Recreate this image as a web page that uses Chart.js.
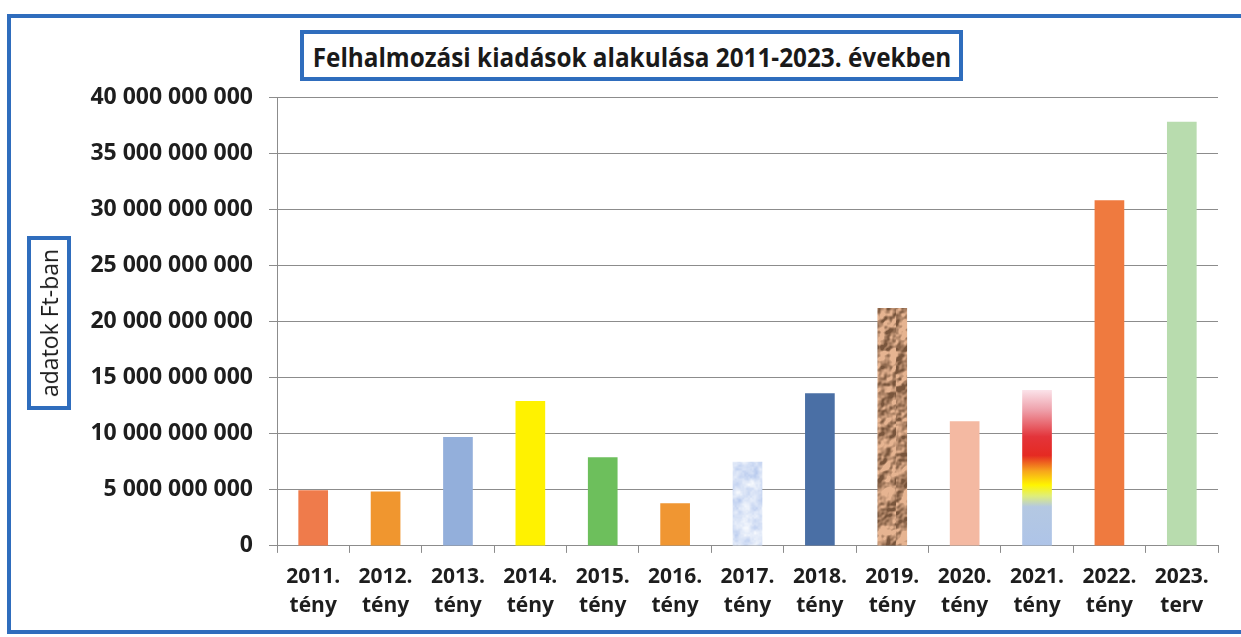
<!DOCTYPE html>
<html>
<head>
<meta charset="utf-8">
<script src="https://cdn.jsdelivr.net/npm/chart.js@4"></script>
<style>
  body { margin: 0; background: #fff; }
  #wrap { position: relative; width: 1241px; height: 637px; overflow: hidden; }
  #c { position: absolute; left: 0; top: 0; }
  .frame { position: absolute; left: 7px; top: 14px; width: 1260px; height: 612px; border: 4px solid #2f6dbd; }
  .title {
    position: absolute; left: 300px; top: 30px; width: 655px; height: 43px;
    border: 4px solid #2f6dbd; background: #fff;
  }
  .title span {
    position: absolute; left: 50%; top: 50%; transform: translate(-50%, -50%) scaleX(0.9);
    font: bold 27px "Open Sans", sans-serif; color: #1a1a1a; white-space: nowrap;
  }
  .ytitle {
    position: absolute; left: 27px; top: 236px; width: 36px; height: 166px;
    border: 4px solid #2f6dbd; background: #fff;
  }
  .ytitle span {
    position: absolute; left: 50%; top: 50%; transform: translate(-50%, -50%) rotate(-90deg);
    font: 23px "Open Sans", sans-serif; color: #1a1a1a; white-space: nowrap;
  }
</style>
</head>
<body>
<div id="wrap">
  <canvas id="c" width="1241" height="637"></canvas>
  <div class="frame"></div>
  <div class="title"><span>Felhalmozási kiadások alakulása 2011-2023. években</span></div>
  <div class="ytitle"><span>adatok Ft-ban</span></div>
</div>
<script>
const years = ["2011.", "2012.", "2013.", "2014.", "2015.", "2016.", "2017.", "2018.", "2019.", "2020.", "2021.", "2022.", "2023."];
const kinds = ["tény", "tény", "tény", "tény", "tény", "tény", "tény", "tény", "tény", "tény", "tény", "tény", "terv"];
const spending = [4.95e9, 4.85e9, 9.7e9, 12.9e9, 7.9e9, 3.8e9, 7.5e9, 13.6e9, 21.2e9, 11.1e9, 13.9e9, 30.8e9, 37.8e9];
const barColors = ["#ef7b4b", "#f0962f", "#93afdb", "#fff200", "#6dbf5c", "#f09632", "sky", "#4a6fa5", "paper", "#f4b9a2", "fire", "#ef7a3f", "#b8dcae"];
const yMax = 40e9;
const yStep = 5e9;

// value noise, fixed hash so the texture is the same every time
function hash(x, y) {
  const s = Math.sin(x * 127.1 + y * 311.7) * 43758.5453;
  return s - Math.floor(s);
}
function vnoise(x, y) {
  const xi = Math.floor(x), yi = Math.floor(y);
  const fx = x - xi, fy = y - yi;
  const u = fx * fx * (3 - 2 * fx), v = fy * fy * (3 - 2 * fy);
  const a = hash(xi, yi), b = hash(xi + 1, yi), c = hash(xi, yi + 1), d = hash(xi + 1, yi + 1);
  return a + (b - a) * u + (c - a) * v + (a - b - c + d) * u * v;
}
function fbm(x, y) {
  return vnoise(x, y) * 0.55 + vnoise(x * 2.1, y * 2.1) * 0.3 + vnoise(x * 4.3, y * 4.3) * 0.15;
}

function makeTexture(w, h, scale, shade) {
  const cv = document.createElement("canvas");
  cv.width = w; cv.height = h;
  const g = cv.getContext("2d");
  const img = g.createImageData(w, h);
  for (let y = 0; y < h; y++) {
    for (let x = 0; x < w; x++) {
      const n = fbm(x * scale, y * scale);
      const ridge = fbm(x * scale + 0.15, y * scale + 0.15) - n; // fake lighting
      const rgb = shade(n, ridge);
      const k = (y * w + x) * 4;
      img.data[k] = rgb[0]; img.data[k + 1] = rgb[1]; img.data[k + 2] = rgb[2]; img.data[k + 3] = 255;
    }
  }
  g.putImageData(img, 0, 0);
  return cv;
}

const clamp = v => Math.max(0, Math.min(255, Math.round(v)));
// tall enough that no tile seam falls inside the plot
const paperTex = makeTexture(64, 640, 0.08, (n, r) => {
  const t = Math.max(0, Math.min(1, 0.6 + r * 5 + (n - 0.5) * 0.4));
  return [clamp(120 + t * 110), clamp(85 + t * 95), clamp(60 + t * 85)];
});
const skyTex = makeTexture(64, 640, 0.12, (n, r) => {
  const t = Math.max(0, Math.min(1, n * 1.4 - 0.2));
  return [clamp(245 - t * 60), clamp(248 - t * 45), clamp(253 - t * 15)];
});

const ctx = document.getElementById("c").getContext("2d");
const paperPattern = ctx.createPattern(paperTex, "repeat");
const skyPattern = ctx.createPattern(skyTex, "repeat");

function fireGradient(chart, i) {
  const y = chart.scales.y;
  if (!y) return "#e83a2a";
  const bottom = y.getPixelForValue(0);
  const top = y.getPixelForValue(spending[i]);
  const gr = chart.ctx.createLinearGradient(0, bottom, 0, top);
  gr.addColorStop(0, "#aec4e8");
  gr.addColorStop(0.25, "#b4c8e2");
  gr.addColorStop(0.32, "#dfee7a");
  gr.addColorStop(0.39, "#fff500");
  gr.addColorStop(0.48, "#f7a51c");
  gr.addColorStop(0.58, "#e52a22");
  gr.addColorStop(0.7, "#e3343a");
  gr.addColorStop(0.87, "#eea0aa");
  gr.addColorStop(1, "#fbe3ea");
  return gr;
}

function barFill(c) {
  const col = barColors[c.dataIndex];
  if (col === "paper") return paperPattern;
  if (col === "sky") return skyPattern;
  if (col === "fire") return fireGradient(c.chart, c.dataIndex);
  return col;
}

function spaced(v) {
  return String(v).replace(/\B(?=(\d{3})+(?!\d))/g, " ");
}

new Chart(ctx, {
  type: "bar",
  data: {
    labels: years.map((y, i) => [y, kinds[i]]),
    datasets: [{
      data: spending,
      backgroundColor: barFill,
      borderWidth: 0,
      categoryPercentage: 1,
      barPercentage: 0.41,
    }],
  },
  options: {
    responsive: false,
    animation: false,
    layout: { padding: { top: 97, right: 23, left: 0, bottom: 7 } },
    plugins: { legend: { display: false }, tooltip: { enabled: false } },
    scales: {
      x: {
        grid: { offset: true, drawOnChartArea: false, drawTicks: true, tickLength: 7, color: "#8c8c8c" },
        border: { color: "#8c8c8c" },
        ticks: { color: "#1e1e1e", padding: 10, font: { family: "Open Sans", weight: "bold", size: 21, lineHeight: 1.36 }, maxRotation: 0 },
      },
      y: {
        min: 0,
        max: yMax,
        afterFit: s => { s.width = 277; },
        grid: { color: "#8c8c8c", tickLength: 8 },
        border: { color: "#8c8c8c" },
        ticks: { stepSize: yStep, color: "#1e1e1e", padding: 16, font: { family: "Open Sans", weight: "bold", size: 23 }, callback: v => spaced(v) },
      },
    },
  },
});
</script>
</body>
</html>
